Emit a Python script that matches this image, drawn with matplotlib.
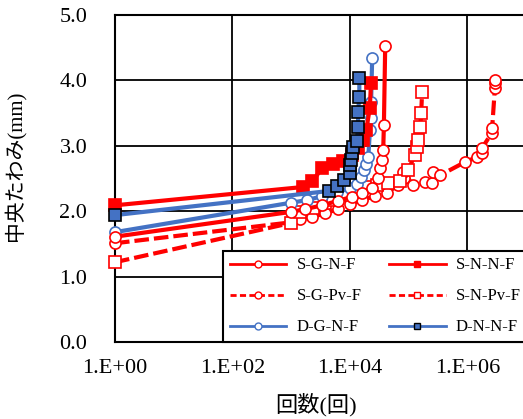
import math

import matplotlib

matplotlib.use("Agg")

import matplotlib.pyplot as plt
from matplotlib.lines import Line2D
from matplotlib.ticker import FixedLocator, FuncFormatter, NullLocator

plt.rcParams["font.family"] = ["Liberation Serif", "Noto Sans CJK JP"]

RED = "#ff0000"
BLUE = "#4472c4"

# cycles / mid-span deflection (mm)
sgnf_n = [1, 1000, 1700, 3400, 6300, 11000, 16000, 24000, 30000, 33000, 35000, 37000, 38000, 40000]
sgnf_d = [1.61, 1.99, 2.03, 2.09, 2.16, 2.22, 2.28, 2.35, 2.51, 2.66, 2.78, 2.94, 3.32, 4.53]

snnf_n = [1, 1600, 2300, 3400, 5200, 7600, 10700, 13800, 16600, 19000, 21900, 22900]
snnf_d = [2.09, 2.37, 2.46, 2.66, 2.72, 2.77, 2.86, 2.97, 3.09, 3.24, 3.58, 3.96]

sgpvf_n = [1, 1000, 1400, 2300, 3800, 6300, 10000, 16000, 27000, 43000, 66000, 85000,
           81000, 120000, 190000, 250000, 260000, 345000, 910000, 1470000, 1780000,
           1800000, 2630000, 2650000, 2950000, 2970000, 3000000]
sgpvf_d = [1.51, 1.83, 1.88, 1.91, 1.97, 2.03, 2.11, 2.17, 2.23, 2.28, 2.40, 2.50,
           2.60, 2.40, 2.45, 2.43, 2.60, 2.55, 2.75, 2.83, 2.89,
           2.97, 3.20, 3.27, 3.88, 3.96, 4.01]

snpvf_n = [1, 1000, 1400, 2350, 3800, 5200, 8900, 13300, 19600, 29000, 45000, 72000,
           98000, 129000, 139000, 145000, 158000, 164000, 170000]
snpvf_d = [1.22, 1.82, 1.99, 2.05, 2.13, 2.17, 2.25, 2.29, 2.37, 2.40, 2.43, 2.46,
           2.63, 2.86, 2.98, 3.09, 3.29, 3.50, 3.82]

dgnf_n = [1, 1000, 1870, 3380, 6070, 10000, 13200, 15500, 17500, 18900, 20600, 22000,
          22900, 23000, 24000]
dgnf_d = [1.68, 2.13, 2.17, 2.23, 2.29, 2.35, 2.42, 2.52, 2.63, 2.72, 2.83, 3.24,
          3.42, 3.67, 4.34]

dnnf_n = [1, 4470, 6000, 7800, 10000, 10000, 10500, 10700, 11500, 13200, 13800, 13800,
          14500, 14500]
dnnf_d = [1.94, 2.31, 2.39, 2.48, 2.59, 2.71, 2.78, 2.89, 2.98, 3.08, 3.28, 3.52,
          3.75, 4.04]

x_ticks = [1, 1e2, 1e4, 1e6]
y_ticks = [0, 1, 2, 3, 4, 5]

fig = plt.figure(figsize=(5.23, 4.19), dpi=100)
ax = fig.add_axes([115 / 523, 77 / 419, 411 / 523, 327 / 419])

ax.set_xscale("log")
ax.set_xlim(1, 1e7)
ax.set_ylim(0, 5)

dash = (0, (3.5, 1.2))
series = [
    (sgpvf_n, sgpvf_d, RED, dash, "o", "white", RED),
    (snpvf_n, snpvf_d, RED, dash, "s", "white", RED),
    (dgnf_n, dgnf_d, BLUE, "-", "o", "white", BLUE),
    (sgnf_n, sgnf_d, RED, "-", "o", "white", RED),
    (snnf_n, snnf_d, RED, "-", "s", RED, RED),
    (dnnf_n, dnnf_d, BLUE, "-", "s", BLUE, "black"),
]
for n, d, color, ls, marker, face, edge in series:
    ax.plot(n, d, color=color, linestyle=ls, linewidth=3.0, marker=marker,
            markersize=8, markerfacecolor=face, markeredgecolor=edge,
            markeredgewidth=1.2, clip_on=False, zorder=3)

ax.xaxis.set_major_locator(FixedLocator(x_ticks))
ax.xaxis.set_minor_locator(NullLocator())
ax.xaxis.set_major_formatter(FuncFormatter(lambda v, p: f"1.E+{int(round(math.log10(v))):02d}"))
ax.yaxis.set_major_locator(FixedLocator(y_ticks))
ax.yaxis.set_major_formatter(FuncFormatter(lambda v, p: f"{v:.1f}"))
ax.tick_params(axis="both", length=0, labelsize=16)
ax.tick_params(axis="y", pad=20)
ax.tick_params(axis="x", pad=12)
ax.grid(True, color="black", linewidth=1.3)
ax.set_axisbelow(True)
for spine in ax.spines.values():
    spine.set_color("black")
    spine.set_linewidth(1.5)

ax.set_ylabel("中央たわみ(mm)", fontsize=15)
ax.yaxis.set_label_coords(-0.219, 0.54)
ax.set_xlabel("回数(回)", fontsize=16)
ax.xaxis.set_label_coords(0.49, -0.155)

leg_dash = (0, (2.2, 1.2))
handles = [
    Line2D([], [], color=RED, lw=2, marker="o", ms=5, mfc="white", mec=RED, label="S-G-N-F"),
    Line2D([], [], color=RED, lw=2, ls=leg_dash, marker="o", ms=5, mfc="white", mec=RED, label="S-G-Pv-F"),
    Line2D([], [], color=BLUE, lw=2, marker="o", ms=5, mfc="white", mec=BLUE, label="D-G-N-F"),
    Line2D([], [], color=RED, lw=2, marker="s", ms=5, mfc=RED, mec=RED, label="S-N-N-F"),
    Line2D([], [], color=RED, lw=2, ls=leg_dash, marker="s", ms=5, mfc="white", mec=RED, label="S-N-Pv-F"),
    Line2D([], [], color=BLUE, lw=2, marker="s", ms=5, mfc=BLUE, mec="black", label="D-N-N-F"),
]
leg = ax.legend(handles=handles, ncol=2, loc="lower left",
                bbox_to_anchor=(0.263, 0.0, 0.74, 0.297), mode="expand",
                fontsize=12, handlelength=3.4, handletextpad=0.6,
                columnspacing=1.0, labelspacing=0.9, borderaxespad=0,
                fancybox=False, framealpha=1, edgecolor="black")
leg.get_frame().set_linewidth(1.5)
leg.set_zorder(5)

fig.savefig("out.png", dpi=100)
